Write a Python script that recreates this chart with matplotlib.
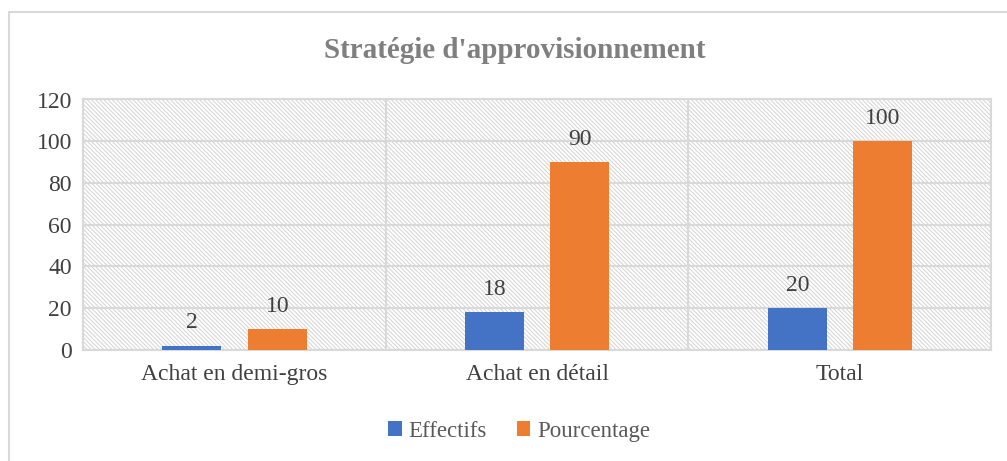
import matplotlib.pyplot as plt
import numpy as np
from matplotlib.patches import Rectangle

categories = ['Achat en demi-gros', 'Achat en détail', 'Total']
effectifs = [2, 18, 20]
pourcentage = [10, 90, 100]
yticks = [0, 20, 40, 60, 80, 100, 120]

plt.rcParams['font.family'] = ['Liberation Serif', 'DejaVu Serif']
plt.rcParams['hatch.linewidth'] = 0.7

fig = plt.figure(figsize=(10.07, 4.61), dpi=100)
ax = fig.add_axes([83 / 1007, 1 - 350 / 461, 908 / 1007, 250.5 / 461])

# chart frame, cut at right and bottom like the source
fig.patches.append(Rectangle((9 / 1007, -0.1), 1.2, 1 - 12 / 461 + 0.1,
                             transform=fig.transFigure, fill=False,
                             edgecolor='#d9d9d9', linewidth=1.5))

# hatched plot background
ax.add_patch(Rectangle((0, 0), 1, 1, transform=ax.transAxes, facecolor='white',
                       edgecolor='#d3d3d3', linewidth=0, hatch='\\' * 8, zorder=0))

x = np.arange(len(categories))
w = 0.195
b1 = ax.bar(x - 0.14, effectifs, w, color='#4472c4', label='Effectifs', zorder=3)
b2 = ax.bar(x + 0.142, pourcentage, w, color='#ed7d31', label='Pourcentage', zorder=3)

for bars in (b1, b2):
    ax.bar_label(bars, padding=9, fontsize=17, color='#404040')

ax.set_xlim(-0.5, 2.5)
ax.set_ylim(0, 120)
ax.set_yticks(yticks)
ax.set_xticks(x)
ax.set_xticklabels(categories)
ax.tick_params(axis='both', length=0, labelsize=17, labelcolor='#404040')
ax.tick_params(axis='x', pad=10)
ax.tick_params(axis='y', pad=8)

ax.set_xticks([0.5, 1.5], minor=True)
ax.tick_params(axis='x', which='minor', length=0)
ax.grid(axis='y', color='#d9d9d9', linewidth=1.5, zorder=1)
ax.grid(axis='x', which='minor', color='#d9d9d9', linewidth=1.5, zorder=1)
ax.set_axisbelow(True)
for s in ax.spines.values():
    s.set_color('#d9d9d9')
    s.set_linewidth(1.5)

fig.text(515 / 1007, 1 - 50 / 461, "Stratégie d'approvisionnement", ha='center',
         va='center', fontsize=21, fontweight='bold', color='#7f7f7f')

fig.legend(loc='center', bbox_to_anchor=(519 / 1007, 1 - 431 / 461), ncol=2,
           frameon=False, fontsize=16.5, handlelength=0.6, handleheight=0.6,
           handletextpad=0.3, columnspacing=1.3, labelcolor='#595959')

fig.savefig('out.png', dpi=100)
